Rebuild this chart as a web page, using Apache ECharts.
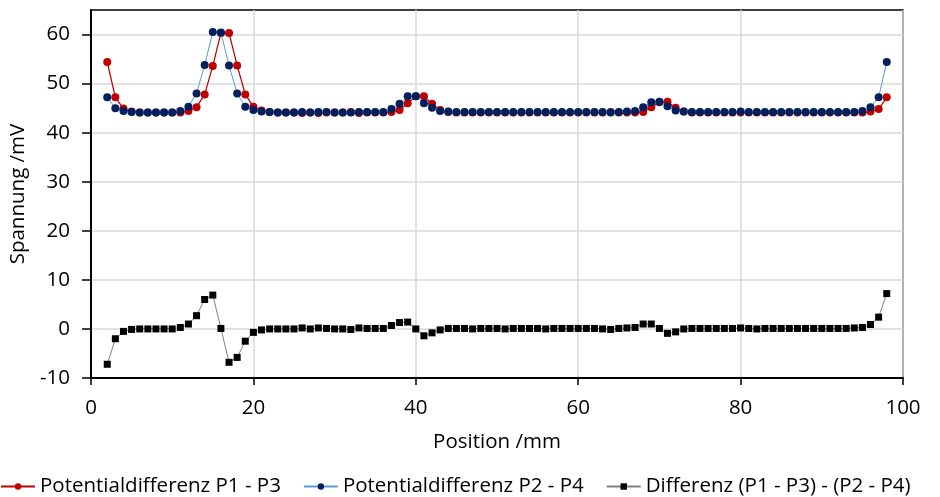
<!DOCTYPE html>
<html>
<head>
<meta charset="utf-8">
<script src="https://cdn.jsdelivr.net/npm/echarts@6/dist/echarts.min.js"></script>
<style>
  html, body { margin: 0; padding: 0; background: #ffffff; }
  #chart { width: 940px; height: 497px; }
</style>
</head>
<body>
<div id="chart"></div>
<script>
// Measuring positions along the sample (mm)
const positions = [
  2, 3, 4, 5, 6, 7, 8, 9, 10, 11, 12, 13, 14, 15, 16, 17, 18, 19, 20,
  21, 22, 23, 24, 25, 26, 27, 28, 29, 30, 31, 32, 33, 34, 35, 36, 37, 38, 39, 40,
  41, 42, 43, 44, 45, 46, 47, 48, 49, 50, 51, 52, 53, 54, 55, 56, 57, 58, 59, 60,
  61, 62, 63, 64, 65, 66, 67, 68, 69, 70, 71, 72, 73, 74, 75, 76, 77, 78, 79, 80,
  81, 82, 83, 84, 85, 86, 87, 88, 89, 90, 91, 92, 93, 94, 95, 96, 97, 98
];

// Potential difference P1 - P3 (mV)
const potP1P3 = [
  54.4, 47.2, 44.9, 44.3, 44.1, 44.1, 44.1, 44.1, 44.1, 44.1, 44.4, 45.2, 47.8, 53.6, 60.3, 60.3, 53.7, 47.8, 45.3,
  44.5, 44.2, 44.1, 44.1, 44.1, 44.0, 44.1, 44.0, 44.1, 44.1, 44.1, 44.2, 44.0, 44.1, 44.1, 44.1, 44.2, 44.6, 46.0, 47.4,
  47.4, 45.9, 44.6, 44.2, 44.1, 44.1, 44.1, 44.1, 44.1, 44.1, 44.1, 44.1, 44.1, 44.1, 44.1, 44.1, 44.1, 44.1, 44.1, 44.1,
  44.1, 44.1, 44.1, 44.2, 44.1, 44.1, 44.1, 44.2, 45.2, 46.2, 46.3, 45.1, 44.3, 44.1, 44.1, 44.1, 44.1, 44.1, 44.1, 44.1,
  44.1, 44.1, 44.1, 44.1, 44.1, 44.1, 44.1, 44.1, 44.1, 44.1, 44.1, 44.1, 44.1, 44.1, 44.1, 44.3, 44.8, 47.2
];

// Potential difference P2 - P4 (mV)
const potP2P4 = [
  47.2, 45.0, 44.4, 44.2, 44.1, 44.1, 44.1, 44.1, 44.1, 44.4, 45.3, 48.0, 53.8, 60.5, 60.4, 53.7, 48.0, 45.3, 44.6,
  44.3, 44.2, 44.1, 44.1, 44.1, 44.2, 44.1, 44.2, 44.2, 44.1, 44.1, 44.1, 44.2, 44.2, 44.2, 44.2, 44.8, 45.9, 47.4, 47.4,
  46.0, 45.1, 44.4, 44.3, 44.2, 44.2, 44.2, 44.2, 44.2, 44.2, 44.2, 44.2, 44.2, 44.2, 44.2, 44.2, 44.2, 44.2, 44.2, 44.2,
  44.2, 44.2, 44.2, 44.1, 44.2, 44.3, 44.4, 45.2, 46.2, 46.3, 45.4, 44.5, 44.3, 44.2, 44.2, 44.2, 44.2, 44.2, 44.2, 44.3,
  44.2, 44.2, 44.2, 44.2, 44.2, 44.2, 44.2, 44.2, 44.2, 44.2, 44.2, 44.2, 44.2, 44.2, 44.4, 45.2, 47.2, 54.4
];

// Difference (P1 - P3) - (P2 - P4) (mV)
const diffValues = [
  -7.2, -2.0, -0.5, -0.1, 0.0, 0.0, 0.0, 0.0, 0.0, 0.3, 1.0, 2.7, 6.0, 6.9, 0.1, -6.8, -5.8, -2.5, -0.7,
  -0.2, 0.0, 0.0, 0.0, 0.0, 0.2, 0.0, 0.2, 0.1, 0.0, 0.0, -0.1, 0.2, 0.1, 0.1, 0.1, 0.7, 1.3, 1.4, 0.0,
  -1.4, -0.8, -0.2, 0.1, 0.1, 0.1, 0.0, 0.1, 0.1, 0.1, 0.0, 0.1, 0.1, 0.1, 0.1, 0.0, 0.1, 0.1, 0.1, 0.1,
  0.1, 0.1, 0.0, -0.1, 0.1, 0.2, 0.3, 1.0, 1.0, 0.1, -0.9, -0.6, 0.0, 0.1, 0.1, 0.1, 0.1, 0.1, 0.1, 0.2,
  0.1, 0.0, 0.1, 0.1, 0.1, 0.1, 0.1, 0.1, 0.1, 0.1, 0.1, 0.1, 0.1, 0.2, 0.3, 0.9, 2.4, 7.2
];

const seriesNames = [
  'Potentialdifferenz P1 - P3',
  'Potentialdifferenz P2 - P4',
  'Differenz (P1 - P3) - (P2 - P4)'
];

const yTickValues = [-10, 0, 10, 20, 30, 40, 50, 60];

const FONT = '"Open Sans", Lato, sans-serif';
const FONT_SIZE = 20.5;

const toPairs = (vals) => positions.map((x, i) => [x, vals[i]]);

const chart = echarts.init(document.getElementById('chart'), null, { renderer: 'canvas' });

chart.setOption({
  animation: false,
  backgroundColor: '#ffffff',
  textStyle: { fontFamily: FONT, color: '#000' },
  grid: {
    left: 91, right: 37, top: 10, bottom: 119,
    show: true, borderColor: '#000', borderWidth: 1.5,
    containLabel: false
  },
  xAxis: {
    type: 'value',
    min: 0, max: 100, interval: 20,
    name: 'Position /mm',
    nameLocation: 'middle',
    nameGap: 54,
    nameTextStyle: { fontFamily: FONT, fontSize: FONT_SIZE, color: '#000' },
    axisLine: { onZero: false, lineStyle: { color: '#000', width: 2 } },
    axisTick: { show: true, inside: false, length: 7, lineStyle: { color: '#000', width: 1.5 } },
    axisLabel: { margin: 20, fontFamily: FONT, fontSize: FONT_SIZE, color: '#000' },
    splitLine: { show: true, lineStyle: { color: '#d9d9d9', width: 1.5 } }
  },
  yAxis: {
    type: 'value',
    min: -10, max: 65, interval: 10,
    name: 'Spannung /mV',
    nameLocation: 'middle',
    nameGap: 62,
    nameTextStyle: { fontFamily: FONT, fontSize: FONT_SIZE, color: '#000' },
    axisLine: { lineStyle: { color: '#000', width: 2 } },
    axisTick: { show: true, length: 9, customValues: yTickValues, lineStyle: { color: '#000', width: 1.5 } },
    axisLabel: { margin: 21, fontFamily: FONT, fontSize: FONT_SIZE, color: '#000', customValues: yTickValues },
    splitLine: { show: true, lineStyle: { color: '#d9d9d9', width: 1.5 } }
  },
  legend: {
    bottom: 0, left: 0, padding: 0,
    itemWidth: 34, itemHeight: 8, itemGap: 22,
    textStyle: { fontFamily: FONT, fontSize: FONT_SIZE, color: '#000' },
    data: seriesNames
  },
  series: [
    {
      name: seriesNames[0],
      type: 'line',
      data: toPairs(potP1P3),
      symbol: 'circle', symbolSize: 8,
      lineStyle: { color: '#c00000', width: 1.25 },
      itemStyle: { color: '#c00000' },
      z: 2
    },
    {
      name: seriesNames[1],
      type: 'line',
      data: toPairs(potP2P4),
      symbol: 'circle', symbolSize: 8,
      lineStyle: { color: '#5b9bd5', width: 1 },
      itemStyle: { color: '#002060' },
      z: 3
    },
    {
      name: seriesNames[2],
      type: 'line',
      data: toPairs(diffValues),
      symbol: 'rect', symbolSize: 7,
      lineStyle: { color: '#808080', width: 1 },
      itemStyle: { color: '#000000' },
      z: 4
    }
  ]
});
</script>
</body>
</html>
